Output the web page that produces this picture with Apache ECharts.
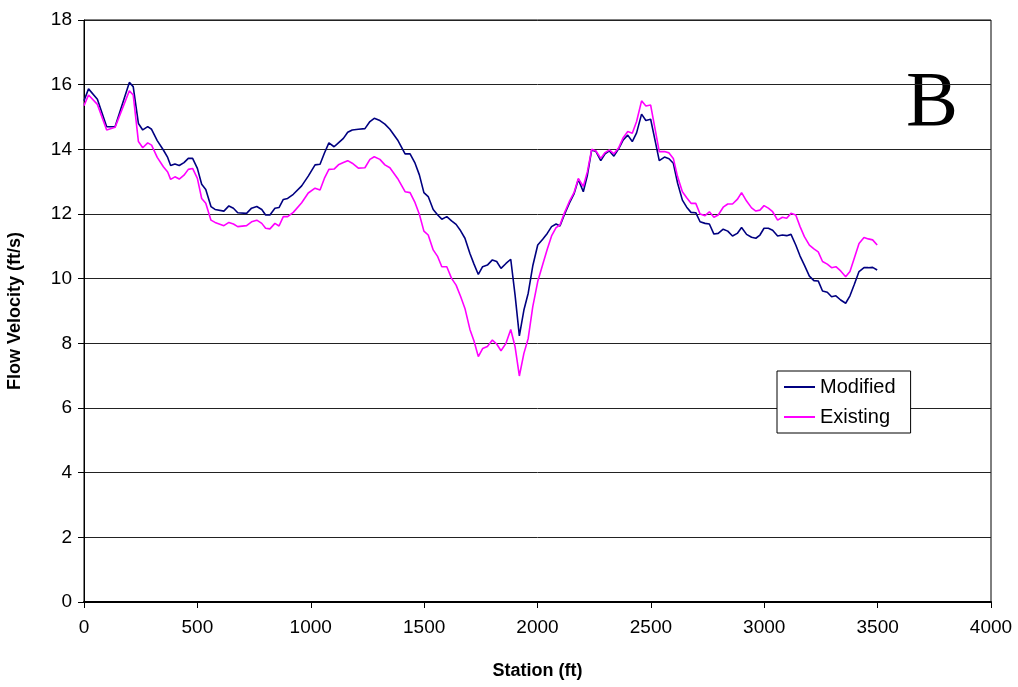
<!DOCTYPE html>
<html>
<head>
    <meta charset="utf-8">
    <script src="https://cdn.jsdelivr.net/npm/echarts@6/dist/echarts.min.js"></script>
    <style>
        body { margin: 0; background: #fff; }
        #main { width: 1018px; height: 687px; }
    </style>
</head>
<body>
<div id="main"></div>
<script type="text/javascript">
    // station (ft) and velocities (ft/s)
    var stations = [0, 20, 59, 100, 137, 200, 217, 240, 259, 281, 298, 323, 350, 369, 382, 401, 420, 441, 460, 479,
        500, 519, 537, 560, 578, 617, 639, 659, 678, 717, 739, 762, 784, 801, 820, 842, 860, 879, 898, 923,
        960, 989, 1019, 1041, 1060, 1080, 1103, 1122, 1144, 1163, 1183, 1210, 1239, 1261, 1280, 1305, 1327, 1349, 1383, 1416,
        1438, 1460, 1479, 1499, 1518, 1540, 1560, 1578, 1600, 1621, 1641, 1661, 1680, 1702, 1720, 1739, 1758, 1779, 1801, 1820,
        1839, 1861, 1882, 1901, 1920, 1940, 1959, 1979, 2001, 2023, 2043, 2062, 2082, 2099, 2118, 2140, 2161, 2180, 2202, 2220,
        2239, 2258, 2279, 2298, 2317, 2337, 2359, 2378, 2398, 2418, 2437, 2459, 2478, 2499, 2518, 2537, 2560, 2580, 2599, 2618,
        2639, 2658, 2677, 2698, 2717, 2739, 2758, 2778, 2797, 2819, 2839, 2860, 2881, 2900, 2922, 2944, 2963, 2981, 2999, 3018,
        3037, 3059, 3080, 3099, 3118, 3139, 3158, 3177, 3199, 3219, 3238, 3257, 3278, 3297, 3316, 3337, 3359, 3378, 3397, 3418,
        3440, 3459, 3478, 3498];

    var modified = [15.5, 15.87, 15.55, 14.7, 14.7, 16.07, 15.94, 14.8, 14.6, 14.7, 14.62, 14.27, 13.98, 13.75, 13.5, 13.55, 13.5, 13.59, 13.72, 13.72,
        13.41, 12.92, 12.76, 12.23, 12.14, 12.09, 12.25, 12.18, 12.04, 12.02, 12.18, 12.23, 12.14, 11.97, 11.97, 12.18, 12.2, 12.45, 12.48, 12.61,
        12.87, 13.17, 13.52, 13.54, 13.88, 14.2, 14.08, 14.2, 14.34, 14.53, 14.6, 14.62, 14.64, 14.86, 14.96, 14.89, 14.78, 14.62, 14.29, 13.86,
        13.86, 13.57, 13.21, 12.66, 12.54, 12.14, 11.97, 11.84, 11.92, 11.79, 11.68, 11.48, 11.25, 10.78, 10.45, 10.13, 10.37, 10.42, 10.58, 10.53,
        10.32, 10.47, 10.6, 9.5, 8.23, 9.03, 9.55, 10.39, 11.04, 11.22, 11.4, 11.61, 11.69, 11.63, 11.97, 12.33, 12.62, 13.07, 12.69, 13.2,
        13.98, 13.93, 13.65, 13.86, 13.95, 13.79, 14.03, 14.29, 14.44, 14.24, 14.51, 15.09, 14.89, 14.93, 14.29, 13.65, 13.76, 13.71, 13.57, 12.95,
        12.43, 12.21, 12.05, 12.04, 11.76, 11.71, 11.69, 11.38, 11.4, 11.53, 11.47, 11.32, 11.4, 11.58, 11.37, 11.28, 11.25, 11.35, 11.56, 11.56,
        11.5, 11.32, 11.35, 11.33, 11.37, 11.04, 10.7, 10.42, 10.08, 9.94, 9.93, 9.62, 9.58, 9.44, 9.47, 9.34, 9.24, 9.47, 9.82, 10.22,
        10.34, 10.34, 10.35, 10.27];

    var existing = [15.35, 15.68, 15.39, 14.6, 14.68, 15.81, 15.68, 14.24, 14.05, 14.2, 14.13, 13.75, 13.46, 13.3, 13.07, 13.15, 13.08, 13.2, 13.38, 13.41,
        13.1, 12.48, 12.33, 11.81, 11.74, 11.64, 11.74, 11.69, 11.61, 11.64, 11.76, 11.81, 11.71, 11.56, 11.54, 11.71, 11.63, 11.92, 11.92, 12.05,
        12.35, 12.65, 12.8, 12.74, 13.1, 13.38, 13.39, 13.52, 13.59, 13.65, 13.57, 13.42, 13.43, 13.69, 13.77, 13.69, 13.52, 13.43, 13.1, 12.69,
        12.66, 12.35, 11.99, 11.47, 11.35, 10.89, 10.68, 10.37, 10.37, 10.01, 9.8, 9.45, 9.08, 8.43, 8.07, 7.59, 7.84, 7.9, 8.1, 7.98,
        7.77, 8.0, 8.43, 7.9, 6.99, 7.69, 8.15, 9.13, 9.91, 10.44, 10.91, 11.32, 11.58, 11.66, 12.02, 12.38, 12.66, 13.1, 12.85, 13.31,
        14.0, 13.95, 13.72, 13.9, 13.98, 13.86, 14.06, 14.36, 14.55, 14.5, 14.86, 15.5, 15.34, 15.37, 14.65, 13.93, 13.93, 13.89, 13.72, 13.15,
        12.69, 12.5, 12.33, 12.33, 12.0, 11.95, 12.07, 11.9, 11.97, 12.21, 12.31, 12.31, 12.45, 12.66, 12.4, 12.19, 12.09, 12.12, 12.26, 12.18,
        12.07, 11.81, 11.9, 11.87, 12.02, 11.97, 11.61, 11.3, 11.04, 10.92, 10.83, 10.53, 10.45, 10.34, 10.37, 10.24, 10.06, 10.22, 10.63, 11.09,
        11.27, 11.23, 11.2, 11.04];

    function pairs(xs, ys) {
        var out = [];
        for (var i = 0; i < xs.length; i++) {
            out.push([xs[i], ys[i]]);
        }
        return out;
    }

    var myChart = echarts.init(document.getElementById('main'));
    var font = 'Liberation Sans, Arial, sans-serif';

    var option = {
        animation: false,
        backgroundColor: '#fff',
        grid: {
            left: 84, right: 27, top: 20, bottom: 85,
            outerBoundsMode: 'none',
            containLabel: false,
            show: true, borderColor: '#000', borderWidth: 1
        },
        legend: {
            left: 777, top: 371,
            orient: 'vertical',
            backgroundColor: '#fff',
            borderColor: '#000', borderWidth: 1,
            padding: [6, 15, 6, 7],
            itemGap: 10,
            itemWidth: 31, itemHeight: 2,
            icon: 'rect',
            textStyle: { fontFamily: font, fontSize: 20, color: '#000' },
            data: ['Modified', 'Existing']
        },
        xAxis: {
            type: 'value',
            min: 0, max: 4000, interval: 500,
            name: 'Station (ft)',
            nameLocation: 'middle',
            nameGap: 60,
            nameTextStyle: { fontFamily: font, fontSize: 18, fontWeight: 'bold', color: '#000' },
            axisLine: { lineStyle: { color: '#000', width: 2 } },
            axisTick: { show: true, length: 6, lineStyle: { color: '#000' } },
            axisLabel: {
                fontFamily: font, fontSize: 19, color: '#000', margin: 16,
                formatter: function (v) { return String(v); }
            },
            splitLine: { show: false }
        },
        yAxis: {
            type: 'value',
            min: 0, max: 18, interval: 2,
            name: 'Flow Velocity (ft/s)',
            nameLocation: 'middle',
            nameGap: 60,
            nameTextStyle: { fontFamily: font, fontSize: 18, fontWeight: 'bold', color: '#000' },
            axisLine: { show: true, lineStyle: { color: '#000', width: 1 } },
            axisTick: { show: true, length: 6, lineStyle: { color: '#000' } },
            axisLabel: { fontFamily: font, fontSize: 19, color: '#000', margin: 12 },
            splitLine: { show: true, lineStyle: { color: '#222', width: 1 } }
        },
        graphic: [{
            type: 'text',
            left: 906, top: 66,
            style: { text: 'B', font: '78px "Liberation Serif", "Times New Roman", serif', fill: '#000' }
        }],
        series: [
            {
                name: 'Modified',
                type: 'line',
                symbol: 'none',
                color: '#000080',
                lineStyle: { width: 1.6, color: '#000080' },
                data: pairs(stations, modified)
            },
            {
                name: 'Existing',
                type: 'line',
                symbol: 'none',
                color: '#ff00ff',
                lineStyle: { width: 1.6, color: '#ff00ff' },
                data: pairs(stations, existing)
            }
        ]
    };

    myChart.setOption(option);
</script>
</body>
</html>
